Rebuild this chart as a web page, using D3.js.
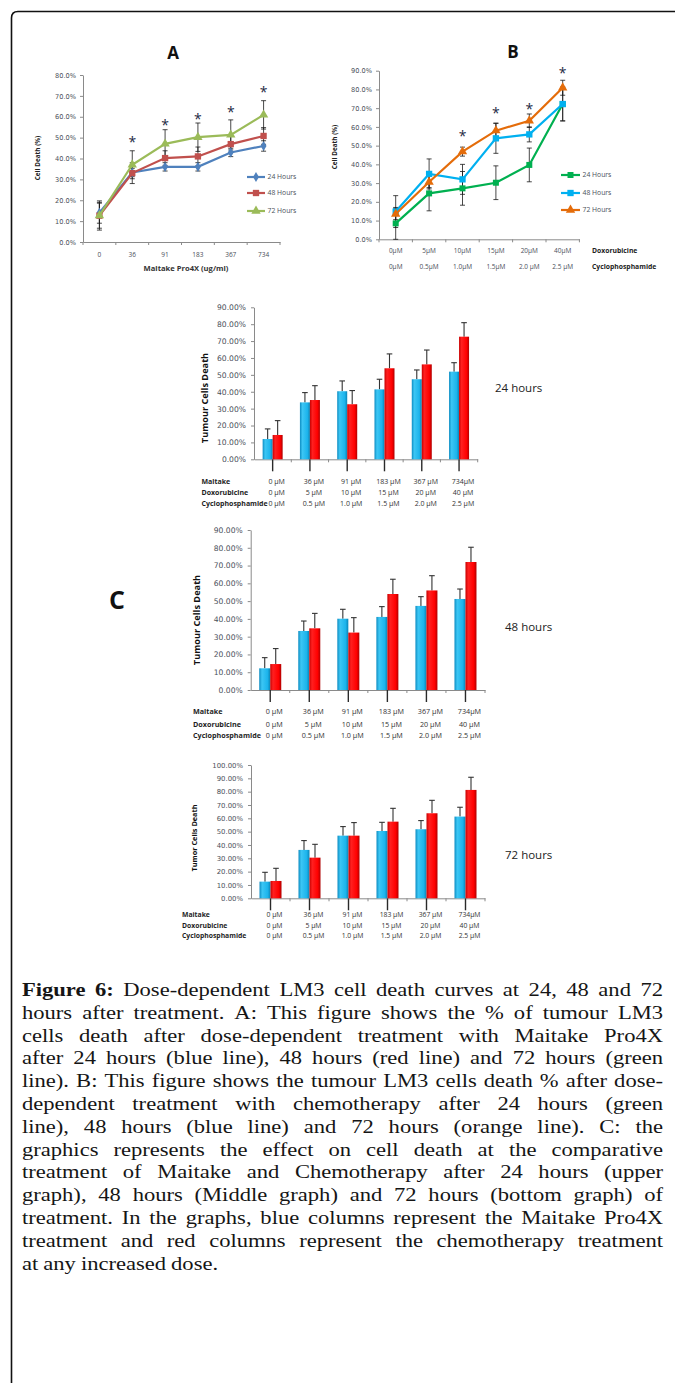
<!DOCTYPE html>
<html>
<head>
<meta charset="utf-8">
<style>
  body { margin: 0; background: #fff; }
  svg text { font-family: "Open Sans", sans-serif; }
  .tick text { font-family: "DejaVu Sans", sans-serif; fill: #4a4f5a; }
  .caption { font-family: "Liberation Serif", serif; font-size: 19.8px; fill: #151515; }
</style>
</head>
<body>
<svg id="fig" width="675" height="1383"></svg>
<script src="https://cdnjs.cloudflare.com/ajax/libs/d3/7.8.5/d3.min.js"></script>
<script>
// ---- panel A : Maitake Pro4X, cell death (%)
const doseA = ["0", "36", "91", "183", "367", "734"];
const a24 = [14, 33.3, 36, 36, 42.9, 46];
const a48 = [12.6, 33, 40.2, 41, 46.9, 50.8];
const a72 = [12.7, 37, 47, 50.2, 51.3, 60.9];
const errA24 = [5, 2, 2, 2, 2, 2.5];
const errA48 = [6, 5, 3.5, 4.5, 4, 4];
const errA72 = [7, 6.7, 6.8, 6.8, 7.2, 6.8];
const starA = [null, 49, 57, 60, 63, 73];

// ---- panel B : chemotherapy
const doxB = ["0μM", "5μM", "10μM", "15μM", "20μM", "40μM"];
const cycB = ["0μM", "0.5μM", "1.0μM", "1.5μM", "2.0 μM", "2.5 μM"];
const b24 = [8.5, 24.5, 27.2, 30.2, 39.7, 72.2];
const b48 = [14.8, 34.9, 32, 53.9, 56, 72.2];
const b72 = [13.5, 30.6, 46.8, 58, 63.3, 80.9];
const errB24 = [8.5, 9.3, 9, 9, 9, 9];
const errB48 = [8.5, 8, 8, 8, 4, 9];
const errB72 = [3, 3, 2.4, 4, 3.6, 4];
const starB = [null, null, 56, 68.5, 70.5, 90];

// ---- panel C : Maitake vs chemotherapy columns
const maitakeC = ["0 μM", "36 μM", "91 μM", "183 μM", "367 μM", "734μM"];
const doxC = ["0 μM", "5 μM", "10 μM", "15 μM", "20 μM", "40 μM"];
const cycC = ["0 μM", "0.5 μM", "1.0 μM", "1.5 μM", "2.0 μM", "2.5 μM"];
const c24Maitake = [12, 33.7, 40.3, 41.4, 47.4, 51.9];
const c24Chemo = [14.4, 35.1, 32.6, 53.9, 56.2, 72.6];
const c24MaitakeErr = [6, 5.8, 6.1, 6, 5.5, 5.3];
const c24ChemoErr = [8.5, 8.5, 8.1, 8.5, 8.5, 8.3];
const c48Maitake = [12.2, 33.2, 40.1, 41.1, 47.3, 51.2];
const c48Chemo = [14.6, 34.7, 32.3, 54, 56, 72];
const c48MaitakeErr = [6, 5.6, 5.3, 5.8, 5.2, 5.6];
const c48ChemoErr = [8.7, 8.4, 8.4, 8.3, 8.3, 8.3];
const c72Maitake = [12.5, 36.3, 47, 50.5, 51.8, 61.3];
const c72Chemo = [13, 30.5, 47, 57.5, 63.8, 81.3];
const c72MaitakeErr = [7, 7, 6.8, 6.5, 6.5, 7];
const c72ChemoErr = [9.5, 10, 9.8, 10, 9.7, 9.5];

const caption = [
  "**Figure 6:** Dose-dependent LM3 cell death curves at 24, 48 and 72",
  "hours after treatment. A: This figure shows the % of tumour LM3",
  "cells death after dose-dependent treatment with Maitake Pro4X",
  "after 24 hours (blue line), 48 hours (red line) and 72 hours (green",
  "line). B: This figure shows the tumour LM3 cells death % after dose-",
  "dependent treatment with chemotherapy after 24 hours (green",
  "line), 48 hours (blue line) and 72 hours (orange line). C: the",
  "graphics represents the effect on cell death at the comparative",
  "treatment of Maitake and Chemotherapy after 24 hours (upper",
  "graph), 48 hours (Middle graph) and 72 hours (bottom graph) of",
  "treatment. In the graphs, blue columns represent the Maitake Pro4X",
  "treatment and red columns represent the chemotherapy treatment",
  "at any increased dose."
];

const svg = d3.select("#fig");
const INK = "#4a4f5a";
const AXIS = "#8a8a8a";

// page frame
svg.append("path")
  .attr("d", "M11.5,1383 V18 Q11.5,11.5 18,11.5 H675")
  .attr("fill", "none").attr("stroke", "#111").attr("stroke-width", 1.6);

function styleAxis(g) {
  g.selectAll(".domain").attr("stroke", AXIS);
  g.selectAll(".tick line").attr("stroke", AXIS);
}

function marker(sel, type, size, color) {
  sel.append("path")
    .attr("d", d3.symbol().type(type).size(size)())
    .attr("fill", color);
}

function linePanel(p) {
  const g = svg.append("g");
  const n = p.rows[0].length;
  const x = d3.scaleBand().domain(d3.range(n)).range(p.xr);
  const y = d3.scaleLinear().domain([0, p.ymax]).range(p.yr);
  const cx = i => x(i) + x.bandwidth() / 2;

  g.append("g").attr("transform", `translate(${p.xr[0]},0)`)
    .call(d3.axisLeft(y).tickValues(d3.range(0, p.ymax + 1, 10))
      .tickFormat(d => d.toFixed(1) + "%").tickSize(3).tickSizeOuter(0).tickPadding(4))
    .call(styleAxis)
    .selectAll("text").attr("font-size", 6.6);
  g.append("g").attr("transform", `translate(0,${p.yr[0]})`)
    .call(d3.axisBottom(x).tickValues([]).tickSizeOuter(0))
    .call(styleAxis);
  g.append("g").selectAll("line").data(d3.range(n + 1)).join("line")
    .attr("x1", i => i < n ? x(i) : p.xr[1]).attr("x2", i => i < n ? x(i) : p.xr[1])
    .attr("y1", p.yr[0]).attr("y2", p.yr[0] + 3)
    .attr("stroke", AXIS);

  // category labels (one or more rows)
  p.rows.forEach((row, r) => {
    g.append("g").selectAll("text").data(row).join("text")
      .attr("x", (d, i) => cx(i)).attr("y", p.yr[0] + p.rowDy[r])
      .attr("dy", "0.35em").attr("text-anchor", "middle")
      .attr("font-family", "DejaVu Sans").attr("font-size", 6.5).attr("fill", INK)
      .text(d => d);
  });
  (p.rowTitles || []).forEach((t, r) => {
    g.append("text").attr("x", p.rowTitleX).attr("y", p.yr[0] + p.rowDy[r])
      .attr("dy", "0.35em").attr("font-size", 6.8).attr("font-weight", "bold")
      .attr("fill", "#222").text(t);
  });
  if (p.xTitle) {
    g.append("text").attr("x", p.xTitlePos[0]).attr("y", p.xTitlePos[1])
      .attr("dy", "0.35em").attr("text-anchor", "middle")
      .attr("font-size", 7.6).attr("font-weight", "bold").attr("fill", "#333")
      .text(p.xTitle);
  }
  g.append("text")
    .attr("transform", `translate(${p.yTitlePos[0]},${p.yTitlePos[1]}) rotate(-90)`)
    .attr("text-anchor", "middle").attr("dy", "0.35em")
    .attr("font-size", 6.4).attr("font-weight", "bold").attr("fill", "#222")
    .text("Cell Death (%)");
  g.append("text").attr("x", p.titlePos[0]).attr("y", p.titlePos[1])
    .attr("dy", "0.35em").attr("text-anchor", "middle")
    .attr("font-size", 17).attr("font-weight", "bold").attr("fill", "#111")
    .text(p.title);

  // error bars
  p.series.forEach(s => {
    const eb = g.append("g").attr("stroke", "#1a1a1a").attr("stroke-width", 0.8);
    eb.selectAll(".v").data(s.values).join("line").attr("class", "v")
      .attr("x1", (d, i) => cx(i)).attr("x2", (d, i) => cx(i))
      .attr("y1", (d, i) => y(Math.max(0, d - s.err[i]))).attr("y2", (d, i) => y(d + s.err[i]));
    [1, -1].forEach(sign => {
      eb.selectAll(".c" + sign).data(s.values).join("line").attr("class", "c" + sign)
        .attr("x1", (d, i) => cx(i) - 2.5).attr("x2", (d, i) => cx(i) + 2.5)
        .attr("y1", (d, i) => y(Math.max(0, d + sign * s.err[i])))
        .attr("y2", (d, i) => y(Math.max(0, d + sign * s.err[i])));
    });
  });
  // lines and markers
  const line = d3.line().x((d, i) => cx(i)).y(d => y(d));
  p.series.forEach(s => {
    g.append("path").datum(s.values).attr("d", line)
      .attr("fill", "none").attr("stroke", s.color).attr("stroke-width", 2.2);
    g.append("g").selectAll("g").data(s.values).join("g")
      .attr("transform", (d, i) => `translate(${cx(i)},${y(d)})`)
      .call(marker, s.symbol, s.size, s.color);
  });
  // legend
  p.series.forEach((s, k) => {
    const ly = p.legend.y[k];
    g.append("line").attr("x1", p.legend.x1).attr("x2", p.legend.x2)
      .attr("y1", ly).attr("y2", ly).attr("stroke", s.color).attr("stroke-width", 2.2);
    g.append("g").attr("transform", `translate(${(p.legend.x1 + p.legend.x2) / 2},${ly})`)
      .call(marker, s.symbol, s.size, s.color);
    g.append("text").attr("x", p.legend.x2 + 2.5).attr("y", ly).attr("dy", "0.35em")
      .attr("font-family", "DejaVu Sans").attr("font-size", 6.8).attr("fill", INK)
      .text(s.name);
  });
  // significance marks
  g.append("g").selectAll("text").data(p.stars).join("text")
    .filter(d => d !== null)
    .attr("x", (d, i) => cx(p.stars.indexOf(d))).attr("y", d => y(d) + 7)
    .attr("text-anchor", "middle").attr("font-size", 14).attr("fill", "#1d2a44")
    .text("*");
}

linePanel({
  title: "A", titlePos: [173, 53],
  xr: [83, 280], yr: [242, 75], ymax: 80,
  rows: [doseA], rowDy: [13],
  xTitle: "Maitake Pro4X (ug/ml)", xTitlePos: [186, 268],
  yTitlePos: [38, 158],
  series: [
    { name: "24 Hours", values: a24, err: errA24, color: "#4f81bd", symbol: d3.symbolDiamond, size: 30 },
    { name: "48 Hours", values: a48, err: errA48, color: "#c0504d", symbol: d3.symbolSquare, size: 40 },
    { name: "72 Hours", values: a72, err: errA72, color: "#9bbb59", symbol: d3.symbolTriangle, size: 38 }
  ],
  legend: { x1: 247, x2: 265, y: [177, 193, 211] },
  stars: starA
});

linePanel({
  title: "B", titlePos: [513, 52],
  xr: [379, 579.4], yr: [239.3, 70.7], ymax: 90,
  rows: [doxB, cycB], rowDy: [11.7, 27.7],
  rowTitles: ["Doxorubicine", "Cyclophosphamide"], rowTitleX: 592,
  yTitlePos: [335, 147],
  series: [
    { name: "24 Hours", values: b24, err: errB24, color: "#00b050", symbol: d3.symbolSquare, size: 36 },
    { name: "48 Hours", values: b48, err: errB48, color: "#00b0f0", symbol: d3.symbolSquare, size: 40 },
    { name: "72 Hours", values: b72, err: errB72, color: "#e46c0a", symbol: d3.symbolTriangle, size: 38 }
  ],
  legend: { x1: 561, x2: 580, y: [175, 193, 210] },
  stars: starB
});

// gradients for the columns
const defs = svg.append("defs");
[["gBlue", ["#0c8cc2", "#3cc6f4", "#1cb4ec", "#0a84b6"]],
 ["gRed", ["#c80000", "#ff2020", "#ff0000", "#b00000"]]].forEach(([id, cols]) => {
  const lg = defs.append("linearGradient").attr("id", id).attr("x1", 0).attr("x2", 1).attr("y1", 0).attr("y2", 0);
  [0, 0.25, 0.75, 1].forEach((o, k) => lg.append("stop").attr("offset", o).attr("stop-color", cols[k]));
});

function barPanel(p) {
  const g = svg.append("g");
  const n = maitakeC.length;
  const x0 = d3.scaleBand().domain(d3.range(n)).range(p.xr);
  const x1 = d3.scaleBand().domain(["m", "c"])
    .range([x0.bandwidth() / 2 - p.barW, x0.bandwidth() / 2 + p.barW]);
  const y = d3.scaleLinear().domain([0, p.ymax]).range(p.yr);
  const cx = i => x0(i) + x0.bandwidth() / 2;

  g.append("g").attr("transform", `translate(${p.xr[0]},0)`)
    .call(d3.axisLeft(y).tickValues(d3.range(0, p.ymax + 1, 10))
      .tickFormat(d => d.toFixed(2) + "%").tickSize(3).tickSizeOuter(0).tickPadding(5))
    .call(styleAxis)
    .selectAll("text").attr("font-size", p.tickFont);
  g.append("g").attr("transform", `translate(0,${p.yr[0]})`)
    .call(d3.axisBottom(x0).tickValues([]).tickSizeOuter(0))
    .call(styleAxis);
  g.append("g").selectAll("line").data(d3.range(1, n + 1)).join("line")
    .attr("x1", i => i < n ? x0(i) : p.xr[1]).attr("x2", i => i < n ? x0(i) : p.xr[1])
    .attr("y1", p.yr[0]).attr("y2", p.yr[0] + 3).attr("stroke", AXIS);
  // dark stubs under each group
  g.append("g").selectAll("line").data(d3.range(n)).join("line")
    .attr("x1", cx).attr("x2", cx).attr("y1", p.yr[0]).attr("y2", p.yr[0] + 12)
    .attr("stroke", "#2a2a2a").attr("stroke-width", 1.4);

  const bars = [];
  p.maitake.forEach((v, i) => bars.push({ i, k: "m", v, e: p.maitakeErr[i] }));
  p.chemo.forEach((v, i) => bars.push({ i, k: "c", v, e: p.chemoErr[i] }));

  g.append("g").selectAll("line").data(bars).join("line")
    .attr("x1", d => x0(d.i) + x1(d.k) + x1.bandwidth() / 2)
    .attr("x2", d => x0(d.i) + x1(d.k) + x1.bandwidth() / 2)
    .attr("y1", d => y(d.v)).attr("y2", d => y(d.v + d.e))
    .attr("stroke", "#333").attr("stroke-width", 1.1);
  g.append("g").selectAll("line").data(bars).join("line")
    .attr("x1", d => x0(d.i) + x1(d.k) + x1.bandwidth() / 2 - 2.8)
    .attr("x2", d => x0(d.i) + x1(d.k) + x1.bandwidth() / 2 + 2.8)
    .attr("y1", d => y(d.v + d.e)).attr("y2", d => y(d.v + d.e))
    .attr("stroke", "#333").attr("stroke-width", 1.1);
  g.append("g").selectAll("rect").data(bars).join("rect")
    .attr("x", d => x0(d.i) + x1(d.k)).attr("width", x1.bandwidth())
    .attr("y", d => y(d.v)).attr("height", d => y(0) - y(d.v))
    .attr("fill", d => d.k === "m" ? "url(#gBlue)" : "url(#gRed)");

  // three rows of dose labels
  [["Maitake", maitakeC], ["Doxorubicine", doxC], ["Cyclophosphamide", cycC]].forEach(([t, row], r) => {
    const ry = p.yr[0] + p.rowDy[r];
    g.append("text").attr("x", p.rowX).attr("y", ry).attr("dy", "0.35em")
      .attr("font-size", p.rowFont).attr("font-weight", "bold").attr("fill", "#1e1e1e").text(t);
    g.append("g").selectAll("text").data(row).join("text")
      .attr("x", (d, i) => cx(i) + 4).attr("y", ry).attr("dy", "0.35em")
      .attr("text-anchor", "middle").attr("font-size", p.rowFont).attr("fill", "#333")
      .text(d => d);
  });
  g.append("text")
    .attr("transform", `translate(${p.yTitlePos[0]},${p.yTitlePos[1]}) rotate(-90)`)
    .attr("text-anchor", "middle").attr("dy", "0.35em")
    .attr("font-size", p.yTitleFont).attr("font-weight", "bold").attr("fill", "#111")
    .text(p.yTitle);
  g.append("text").attr("x", p.hourPos[0]).attr("y", p.hourPos[1]).attr("dy", "0.35em")
    .attr("font-size", 11.5).attr("fill", "#222").text(p.hour);
}

barPanel({
  xr: [254, 477.7], yr: [459.3, 307.3], ymax: 90, barW: 10, tickFont: 7.6,
  maitake: c24Maitake, chemo: c24Chemo, maitakeErr: c24MaitakeErr, chemoErr: c24ChemoErr,
  rowX: 201.5, rowDy: [22.4, 33.4, 44], rowFont: 7,
  yTitle: "Tumour Cells Death", yTitlePos: [205, 398], yTitleFont: 9.2,
  hour: "24 hours", hourPos: [495, 388]
});
barPanel({
  xr: [250.7, 485], yr: [690, 530], ymax: 90, barW: 11, tickFont: 7.6,
  maitake: c48Maitake, chemo: c48Chemo, maitakeErr: c48MaitakeErr, chemoErr: c48ChemoErr,
  rowX: 193, rowDy: [21, 34, 45.7], rowFont: 7.2,
  yTitle: "Tumour Cells Death", yTitlePos: [197, 620], yTitleFont: 9.2,
  hour: "48 hours", hourPos: [505, 627]
});
barPanel({
  xr: [251, 485], yr: [898.3, 765], ymax: 100, barW: 11, tickFont: 6.9,
  maitake: c72Maitake, chemo: c72Chemo, maitakeErr: c72MaitakeErr, chemoErr: c72ChemoErr,
  rowX: 182, rowDy: [16.7, 27.4, 37.7], rowFont: 6.8,
  yTitle: "Tumor Cells Death", yTitlePos: [194, 838], yTitleFont: 7.3,
  hour: "72 hours", hourPos: [505, 855]
});

svg.append("text").attr("x", 117).attr("y", 600).attr("dy", "0.35em")
  .attr("text-anchor", "middle").attr("font-size", 25).attr("font-weight", "bold")
  .attr("fill", "#111").text("C");

// justified caption, drawn slightly widened like the source page
const capSX = 1.14;
const capG = svg.append("g").attr("transform", `translate(22,0) scale(${capSX},1)`);
const capW = 641 / capSX, capY0 = 996, capStep = 22.8;
caption.forEach((ln, k) => {
  const words = ln.split(" ").filter(w => w.length);
  let bold = false;
  const t = capG.append("text").attr("class", "caption").attr("y", capY0 + k * capStep);
  const spans = words.map(w => {
    let txt = w;
    let b = bold;
    if (txt.startsWith("**")) { txt = txt.slice(2); b = true; bold = true; }
    if (txt.endsWith("**")) { txt = txt.slice(0, -2); bold = false; }
    return t.append("tspan").attr("font-weight", b ? "bold" : null).text(txt);
  });
  const widths = spans.map(s => s.node().getComputedTextLength());
  const total = d3.sum(widths);
  const last = k === caption.length - 1;
  const gap = last ? 4.4 : (capW - total) / (spans.length - 1);
  let cur = 0;
  spans.forEach((s, i) => { s.attr("x", cur); cur += widths[i] + gap; });
});
</script>
</body>
</html>
